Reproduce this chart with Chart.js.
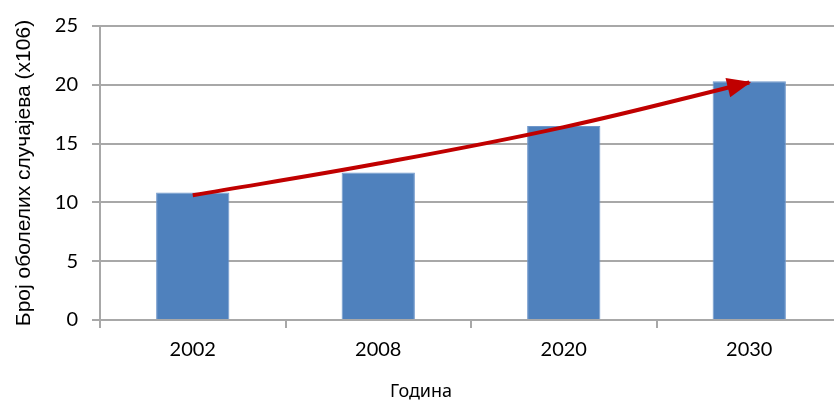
<!DOCTYPE html>
<html lang="sr">
<head>
<meta charset="utf-8">
<title>Број оболелих случајева</title>
<script src="https://cdn.jsdelivr.net/npm/chart.js@4.4.1/dist/chart.umd.min.js"></script>
<style>
  html, body { margin: 0; padding: 0; background: #fff; overflow: hidden; }
  canvas { display: block; }
</style>
</head>
<body>
<canvas id="chart" width="846" height="401"></canvas>
<script>
/* ================================================
   Број оболелих случајева по години (x106)
   ================================================ */

const years      = ['2002', '2008', '2020', '2030'];
const cases      = [10.85, 12.55, 16.5, 20.3];   // stubići
const trend      = [10.6, 13.3, 16.4, 20.2];     // crvena strelica
const yTicks     = [0, 5, 10, 15, 20, 25];

const yTitle = 'Број оболелих случајева (x106)';
const xTitle = 'Година';

const GRID = '#a8a8a8';

/**
 * Vrh strelice na kraju linije trenda.
 */
const arrowHead = {
  id: 'arrowHead',
  afterDatasetsDraw(chart) {
    const meta = chart.getDatasetMeta(1);
    const pts  = meta.data;
    if (!pts.length) return;
    const last = pts[pts.length - 1];
    const prev = pts[pts.length - 2];

    // smjer iz kontrolne tačke krive
    let dx = last.x - (last.cp1x ?? prev.x);
    let dy = last.y - (last.cp1y ?? prev.y);
    const len = Math.hypot(dx, dy) || 1;
    dx /= len; dy /= len;

    const tipX = last.x + dx * 2;
    const tipY = last.y + dy * 2;
    const L = 24, W = 10;
    const bx = tipX - dx * L, by = tipY - dy * L;

    const ctx = chart.ctx;
    ctx.save();
    ctx.fillStyle = '#C00000';
    ctx.beginPath();
    ctx.moveTo(tipX, tipY);
    ctx.lineTo(bx - dy * W, by + dx * W);
    ctx.lineTo(bx + dy * W, by - dx * W);
    ctx.closePath();
    ctx.fill();
    ctx.restore();
  },
};

new Chart(document.getElementById('chart'), {
  type: 'bar',
  data: {
    labels: years,
    datasets: [
      {
        type: 'bar',
        data: cases,
        backgroundColor: '#4F81BD',
        borderColor:     '#6f97cb',
        borderWidth:     1,
        categoryPercentage: 1,
        barPercentage:   0.395,
        order: 2,
      },
      {
        type: 'line',
        data: trend,
        borderColor:  '#C00000',
        borderWidth:  4,
        pointRadius:  0,
        tension:      0.4,
        fill:         false,
        order: 1,
      },
    ],
  },
  options: {
    responsive: false,
    animation:  false,
    layout: { padding: { left: 0, top: 25, right: 4, bottom: 0 } },
    plugins: {
      legend:  { display: false },
      tooltip: { enabled: false },
      // naslov X ose centriran na cijelu sliku, kao u originalu
      title: {
        display:  true,
        position: 'bottom',
        text:     xTitle,
        color:    '#000',
        padding:  { top: 0, bottom: 0 },
        font:     { family: 'Noto Sans', size: 18, weight: 'normal', lineHeight: 1 },
      },
    },
    scales: {
      x: {
        offset: true,
        grid: {
          display: true,
          offset: true,
          drawOnChartArea: false,
          drawTicks: true,
          tickLength: 8,
          color: GRID,
          lineWidth: 2,
        },
        border: { display: true, color: GRID, width: 2 },
        ticks: {
          color: '#000',
          padding: 10,
          font: { family: 'Lato', size: 20 },
        },
        afterFit: s => { s.height = 63; },
      },
      y: {
        min: 0,
        max: 25,
        afterBuildTicks: s => { s.ticks = yTicks.map(v => ({ value: v })); },
        grid: {
          color: GRID,
          lineWidth: 2,
          drawTicks: true,
          tickLength: 8,
        },
        border: { display: true, color: GRID, width: 2 },
        ticks: {
          color: '#000',
          padding: 14,
          font: { family: 'Lato', size: 20 },
        },
        title: {
          display: true,
          text: yTitle,
          color: '#000',
          padding: { top: 12, bottom: 0 },
          font: { family: 'Liberation Sans', size: 21 },
        },
        afterFit: s => { s.width = 100; },
      },
    },
  },
  plugins: [arrowHead],
});
</script>
</body>
</html>
